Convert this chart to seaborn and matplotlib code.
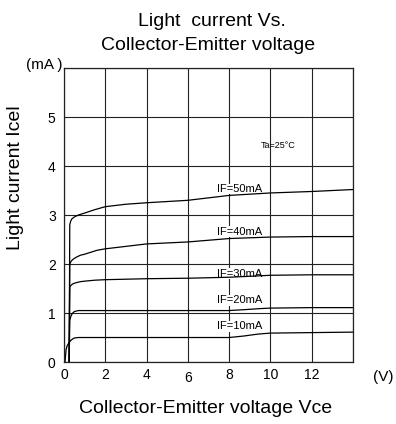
import matplotlib
matplotlib.use("Agg")
import matplotlib.pyplot as plt
import seaborn as sns
import pandas as pd

# ---- data ----
vce_10 = [0.05, 0.1, 0.15, 0.25, 0.35, 0.5, 0.7, 1, 2, 4, 6, 8, 8.7, 9.4, 10, 12, 14]
ic_10 = [0, 0.25, 0.33, 0.4, 0.45, 0.49, 0.5, 0.5, 0.5, 0.5, 0.5, 0.5, 0.53, 0.57, 0.59, 0.6, 0.61]
vce_20 = [0.25, 0.28, 0.33, 0.4, 0.5, 0.7, 1, 2, 4, 6, 8, 8.8, 9.5, 10, 12, 14]
ic_20 = [0, 0.85, 0.93, 0.99, 1.03, 1.05, 1.05, 1.05, 1.05, 1.05, 1.05, 1.07, 1.09, 1.1, 1.11, 1.11]
vce_30 = [0.25, 0.28, 0.35, 0.45, 0.6, 0.8, 1, 1.5, 2, 4, 6, 8, 10, 12, 14]
ic_30 = [0, 1.53, 1.57, 1.6, 1.62, 1.64, 1.65, 1.67, 1.68, 1.7, 1.71, 1.73, 1.77, 1.78, 1.78]
vce_40 = [0.25, 0.28, 0.35, 0.45, 0.6, 0.8, 1, 1.3, 1.6, 2, 3, 4, 6, 8, 10, 12, 14]
ic_40 = [0, 2.0, 2.06, 2.1, 2.14, 2.18, 2.2, 2.24, 2.28, 2.31, 2.36, 2.41, 2.45, 2.52, 2.55, 2.56, 2.56]
vce_50 = [0.25, 0.28, 0.32, 0.38, 0.5, 0.7, 1, 1.5, 2, 3, 4, 6, 8, 10, 12, 14]
ic_50 = [0, 2.8, 2.87, 2.92, 2.96, 3.0, 3.04, 3.11, 3.17, 3.22, 3.25, 3.3, 3.4, 3.45, 3.48, 3.52]

curve_names = ["IF=10mA", "IF=20mA", "IF=30mA", "IF=40mA", "IF=50mA"]
label_y = [0.73, 1.26, 1.80, 2.66, 3.53]
x_ticks = [0, 2, 4, 6, 8, 10, 12]
y_ticks = [0, 1, 2, 3, 4, 5]

frames = []
for name, xs, ys in zip(curve_names,
                        [vce_10, vce_20, vce_30, vce_40, vce_50],
                        [ic_10, ic_20, ic_30, ic_40, ic_50]):
    frames.append(pd.DataFrame({"Vce": xs, "Ic": ys, "curve": name}))
df = pd.concat(frames, ignore_index=True)

sns.set_style("white")
plt.rcParams["font.family"] = ["Liberation Sans", "DejaVu Sans"]
plt.rcParams["text.color"] = "black"
plt.rcParams["axes.labelcolor"] = "black"
plt.rcParams["xtick.color"] = "black"
plt.rcParams["ytick.color"] = "black"

fig = plt.figure(figsize=(3.96, 4.24), dpi=100)
ax = fig.add_axes([0.1616, 0.1462, 0.7298, 0.6934])

sns.lineplot(data=df, x="Vce", y="Ic", hue="curve", units="curve",
             estimator=None, sort=False,
             palette=["black"] * 5, linewidth=0.9, legend=False, ax=ax)

ax.set_xlim(0, 14)
ax.set_ylim(0, 6)
ax.set_xticks(range(0, 15, 2))
ax.set_xticklabels([str(t) for t in x_ticks] + [""])
ax.set_yticks(range(0, 7))
ax.set_yticklabels([str(t) for t in y_ticks] + [""])
ax.grid(True, color="#222222", linewidth=0.8)
ax.set_axisbelow(True)
for s in ax.spines.values():
    s.set_color("#222222")
    s.set_linewidth(0.9)
ax.tick_params(axis="both", length=0, labelsize=10, colors="black")
ax.tick_params(axis="x", pad=4)
ax.tick_params(axis="y", pad=6)
ax.set_xlabel("")
ax.set_ylabel("")
ax.get_xticklabels()[3].set_y(-0.01)

for name, ly in zip(curve_names, label_y):
    ax.text(8.5, ly, name, fontsize=8, ha="center", va="center",
            bbox=dict(facecolor="white", edgecolor="none", pad=0.3), zorder=1.5)
ax.text(10.35, 4.42, "Ta=25°C", fontsize=6.5, ha="center", va="center")

fig.text(0.535, 0.9387, "Light  current Vs.", fontsize=14, ha="center", va="baseline")
fig.text(0.525, 0.882, "Collector-Emitter voltage", fontsize=14, ha="center", va="baseline")
fig.text(0.111, 0.846, "(mA )", fontsize=11, ha="center", va="center")
fig.text(0.967, 0.112, "(V)", fontsize=11, ha="center", va="center")
fig.text(0.519, 0.026, "Collector-Emitter voltage Vce", fontsize=14, ha="center", va="baseline")
fig.text(0.039, 0.58, "Light current Icel", fontsize=14, ha="center", va="center", rotation=90)

fig.savefig("out.png", dpi=100)
